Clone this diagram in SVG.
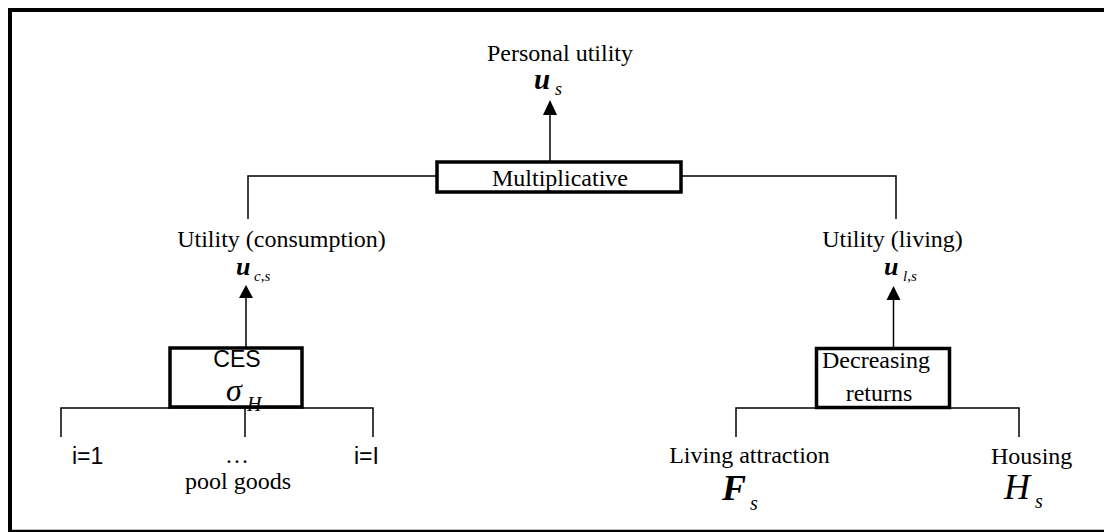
<svg xmlns="http://www.w3.org/2000/svg" width="1104" height="532" viewBox="0 0 1104 532">
<style>
.t{font-family:"Liberation Serif","Times New Roman",serif;font-size:24px;fill:#000}
.a{font-family:"Liberation Sans",Arial,sans-serif;font-size:23px;fill:#000}
.m{font-family:"Liberation Serif","Times New Roman",serif;font-style:italic;fill:#000}
.box{fill:#fff;stroke:#000;stroke-width:3.5}
.ln{fill:none;stroke:#000;stroke-width:1.5}
</style>
<path d="M10,540 V10 H1120" fill="none" stroke="#000" stroke-width="4"/>
<line x1="8" y1="531" x2="1104" y2="531" stroke="#000" stroke-width="2.5"/>
<g id="connectors">
<line class="ln" x1="550" y1="161" x2="550" y2="114"/>
<polygon points="543,115 557,115 550,100"/>
<polyline class="ln" points="436,176 248,176 248,219"/>
<polyline class="ln" points="682,176 896,176 896,219"/>
<line class="ln" x1="246" y1="347" x2="246" y2="297"/>
<polygon points="239,298 253,298 246,285"/>
<line class="ln" x1="893.5" y1="347" x2="893.5" y2="299"/>
<polygon points="886.5,300 900.5,300 893.5,286"/>
<polyline class="ln" points="61,437 61,408 373,408 373,437"/>
<line class="ln" x1="245" y1="408" x2="245" y2="437"/>
<polyline class="ln" points="736,437 736,408 1019,408 1019,437"/>
</g>
<g id="personal-utility">
<text class="t" x="560" y="61" text-anchor="middle">Personal utility</text>
<text class="m" x="534" y="89" font-size="29" font-weight="bold">u</text>
<text class="m" x="555" y="95" font-size="18">s</text>
</g>
<g id="multiplicative">
<rect class="box" x="437" y="162" width="244" height="30"/>
<text class="t" x="560" y="186" text-anchor="middle">Multiplicative</text>
</g>
<g id="utility-consumption">
<text class="t" x="281.5" y="247" text-anchor="middle">Utility (consumption)</text>
<text class="m" x="236" y="275" font-size="26" font-weight="bold">u</text>
<text class="m" x="254" y="281" font-size="15">c<tspan font-style="normal">,</tspan>s</text>
</g>
<g id="utility-living">
<text class="t" x="892.5" y="247" text-anchor="middle">Utility (living)</text>
<text class="m" x="884" y="275" font-size="26" font-weight="bold">u</text>
<text class="m" x="903" y="281" font-size="15">l<tspan font-style="normal">,</tspan>s</text>
</g>
<g id="ces">
<rect class="box" x="170" y="348" width="132" height="59"/>
<text class="a" x="237" y="367" text-anchor="middle" font-size="24">CES</text>
<text class="m" x="226" y="401" font-size="32">σ</text>
<text class="m" x="247" y="411" font-size="20">H</text>
</g>
<g id="decreasing-returns">
<rect class="box" x="816.5" y="348.5" width="133" height="59"/>
<text class="t" x="876" y="368" text-anchor="middle">Decreasing</text>
<text class="t" x="879" y="401" text-anchor="middle">returns</text>
</g>
<g id="pool-goods">
<text class="a" x="72" y="464">i=1</text>
<text class="t" x="237" y="463" text-anchor="middle">…</text>
<text class="a" x="354" y="464">i=I</text>
<text class="t" x="238" y="489" text-anchor="middle">pool goods</text>
</g>
<g id="living-attraction">
<text class="t" x="749.5" y="463" text-anchor="middle">Living attraction</text>
<text class="m" x="722" y="500" font-size="36" font-weight="bold">F</text>
<text class="m" x="750" y="510" font-size="20">s</text>
</g>
<g id="housing">
<text class="t" x="1031.7" y="464" text-anchor="middle">Housing</text>
<text class="m" x="1004" y="499" font-size="36">H</text>
<text class="m" x="1035" y="508" font-size="20">s</text>
</g>
</svg>
